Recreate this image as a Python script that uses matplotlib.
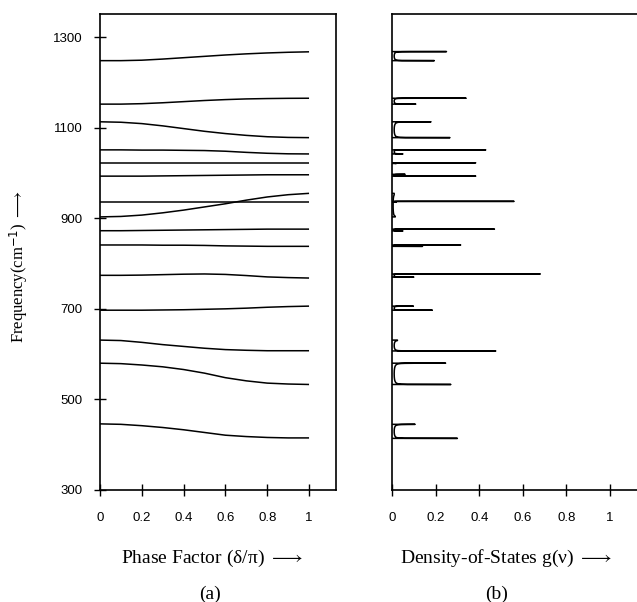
import numpy as np
import matplotlib
matplotlib.use("Agg")
import matplotlib.pyplot as plt

plt.rcParams['mathtext.fontset'] = 'custom'
plt.rcParams['mathtext.rm'] = 'Liberation Serif'
plt.rcParams['mathtext.it'] = 'Liberation Serif:italic'

# ---------------- data ----------------
phase = [0.0, 0.1, 0.2, 0.3, 0.4, 0.5, 0.6, 0.7, 0.8, 0.9, 1.0]

c1 = [1248, 1248, 1249, 1251.5, 1254.5, 1257.5, 1260.5, 1263, 1265, 1266.5, 1267.5]
c2 = [1152, 1152, 1153, 1155, 1157.5, 1160, 1162, 1163.5, 1164.3, 1164.8, 1165]
c3 = [1113, 1112, 1109, 1104, 1098, 1092, 1087, 1083, 1080, 1078.5, 1078]
c4 = [1051, 1051, 1050.5, 1050.5, 1050, 1049.5, 1048, 1045.5, 1043.5, 1042.3, 1042]
c5 = [1021, 1021, 1021, 1021, 1021, 1021, 1021, 1021, 1021, 1021, 1021]
c6 = [993, 993, 993, 993.5, 994, 994.5, 995, 995.5, 996, 996, 996]
c7 = [936.5, 936.5, 936.5, 936.5, 936.5, 936.5, 936.5, 936.5, 936.5, 936.5, 936.5]
c8 = [903, 904, 907, 912, 918, 925, 932, 940, 947, 952, 955]
c9 = [872.5, 872.5, 873, 873.5, 874, 874.5, 875, 875.5, 876, 876, 876]
c10 = [841, 841, 841, 840.5, 840.5, 840, 839, 838.5, 838, 838, 838]
c11 = [774, 774, 774.5, 775.5, 776.5, 777, 776, 773.5, 770.5, 769, 768]
c12 = [697, 697, 697, 697.5, 698, 699, 700, 701.5, 703.5, 705, 706]
c13 = [631, 630, 626, 621, 617, 613, 610, 608.5, 607.5, 607.5, 607.5]
c14 = [580, 579, 576, 572, 566, 558, 548, 541, 536, 534, 533]
c15 = [446, 445, 442, 438, 433, 427, 421, 418, 416, 415, 415]
branches = [c1, c2, c3, c4, c5, c6, c7, c8, c9, c10, c11, c12, c13, c14, c15]

# density of states: band edges and (truncated) peak heights at each edge
band_lo = [1248, 1152, 1078, 1042, 1021, 993, 935.5, 903, 872, 838, 770, 697, 607, 533, 414]
band_hi = [1268, 1165, 1113, 1051, 1022.5, 997, 937.3, 955, 876, 841, 777, 706, 631, 580, 445]
peak_lo = [0.194, 0.109, 0.266, 0.05, 0.02, 0.384, 0.02, 0.015, 0.05, 0.14, 0.10, 0.185, 0.476, 0.27, 0.30]
peak_hi = [0.25, 0.34, 0.179, 0.43, 0.384, 0.06, 0.56, 0.01, 0.47, 0.315, 0.68, 0.098, 0.025, 0.246, 0.106]
g_min = [0.01, 0.01, 0.01, 0.01, 0.01, 0.01, 0.01, 0.005, 0.01, 0.01, 0.01, 0.01, 0.01, 0.01, 0.01]

x_ticks = [0, 0.2, 0.4, 0.6, 0.8, 1]
x_ticklabels = ['0', '0.2', '0.4', '0.6', '0.8', '1']
y_ticks = [300, 500, 700, 900, 1100, 1300]
y_ticklabels = ['300', '500', '700', '900', '1100', '1300']

# ---------------- figure ----------------
W, H = 637, 602
fig = plt.figure(figsize=(W / 100, H / 100), dpi=100)
ax1 = fig.add_axes([100 / W, 1 - 490 / H, 236 / W, 476 / H])
ax2 = fig.add_axes([392 / W, 1 - 490 / H, 245 / W, 476 / H])

lw = 1.1
for c in branches:
    ax1.plot(phase, c, color='black', lw=lw, solid_capstyle='butt')

for lo, hi, hl, hh, gm in zip(band_lo, band_hi, peak_lo, peak_hi, g_min):
    t = np.linspace(0, 1, 600)[1:-1]
    nu = lo + (hi - lo) * (1 - np.cos(np.pi * t)) / 2
    k = gm * (hi - lo) / 2
    g = k / np.sqrt((nu - lo) * (hi - nu))
    mid = (lo + hi) / 2
    g = np.where(nu < mid, np.minimum(g, hl), np.minimum(g, hh))
    gx = np.concatenate([[0, hl], g, [hh, 0]])
    gy = np.concatenate([[lo, lo], nu, [hi, hi]])
    ax2.plot(gx, gy, color='black', lw=lw)

tick_font = dict(family=['Liberation Sans', 'DejaVu Sans'], size=9.5)
for ax in (ax1, ax2):
    ax.set_xlim(0, 1.129 if ax is ax1 else 1.124)
    ax.set_ylim(300, 1351)
    ax.set_xticks(x_ticks)
    ax.set_xticklabels(x_ticklabels, fontdict=tick_font)
    ax.tick_params(axis='x', direction='inout', length=9, width=1.0, pad=11)
    for s in ax.spines.values():
        s.set_linewidth(1.2)

ax1.set_yticks(y_ticks)
ax1.set_yticklabels(y_ticklabels, fontdict=tick_font)
ax1.tick_params(axis='y', direction='inout', length=9, width=1.0, pad=8)
ax2.set_yticks([])
ax2.spines['right'].set_visible(False)

serif = ['Liberation Serif', 'DejaVu Serif']
fig.text(212 / W, 1 - 558 / H, r'Phase Factor (δ/π) $\longrightarrow$',
         family=serif, size=14, ha='center', va='center')
fig.text(506 / W, 1 - 558 / H, r'Density-of-States g(ν) $\longrightarrow$',
         family=serif, size=14, ha='center', va='center')
fig.text(210 / W, 1 - 594 / H, '(a)', family=serif, size=14, ha='center', va='center')
fig.text(497 / W, 1 - 594 / H, '(b)', family=serif, size=14, ha='center', va='center')
fig.text(19 / W, 1 - 266 / H, r'Frequency(cm$^{\mathsf{-1}}$) $\longrightarrow$',
         family=serif, size=12, ha='center', va='center', rotation=90)

fig.savefig('out.png', dpi=100)
